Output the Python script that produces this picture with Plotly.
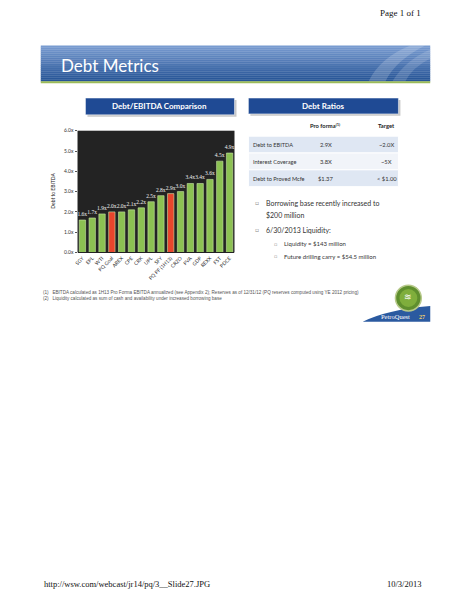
import plotly.graph_objects as go

# ---------------- data ----------------
companies = ["SGY", "EPL", "WTI", "PQ Goal", "AREX", "CPE", "CRK", "UPL", "SFY",
             "PQ PF (1H13)", "CRZO", "PVA", "GDP", "REXX", "FST", "PDCE"]
debt_to_ebitda = [1.6, 1.7, 1.9, 2.0, 2.0, 2.1, 2.2, 2.5, 2.8, 2.9, 3.0, 3.4, 3.4, 3.6, 4.5, 4.9]
highlight = ["PQ Goal", "PQ PF (1H13)"]
ytick_vals = [0, 1, 2, 3, 4, 5, 6]
ytick_text = ["0.0x", "1.0x", "2.0x", "3.0x", "4.0x", "5.0x", "6.0x"]

table_header = ["Pro forma<sup>(1)</sup>", "Target"]
table_rows = ["Debt to EBITDA", "Interest Coverage", "Debt to Proved Mcfe"]
table_proforma = ["2.9X", "3.8X", "$1.37"]
table_target = ["~2.0X", "~5X", "< $1.00"]

W, H = 464, 600
def px(x): return x / W
def py(y): return 1 - y / H

GREEN = "#8cc152"
RED = "#e8452c"
colors = [RED if c in highlight else GREEN for c in companies]

fig = go.Figure()
fig.add_trace(go.Bar(
    x=companies, y=debt_to_ebitda,
    marker=dict(color=colors, line=dict(color="#c9e6a6", width=0.6)),
    text=[f"{v:.1f}x" for v in debt_to_ebitda],
    textposition="outside", constraintext="none", cliponaxis=False,
    textfont=dict(family="Liberation Serif", size=5.5, color="#f0f0f0"),
    hoverinfo="skip",
))

shapes = []
ann = []

def rect(x0, y0, x1, y1, fill, line=None, lw=0, layer="below"):
    shapes.append(dict(type="rect", xref="paper", yref="paper",
                       x0=px(x0), x1=px(x1), y0=py(y1), y1=py(y0),
                       fillcolor=fill, line=dict(color=line or fill, width=lw), layer=layer))

def text(x, y, s, size, color="#333", family="Lato", xanchor="left", bold=False, angle=0):
    if bold:
        s = f"<b>{s}</b>"
    ann.append(dict(xref="paper", yref="paper", x=px(x), y=py(y), text=s, showarrow=False,
                    xanchor=xanchor, yanchor="middle", textangle=angle,
                    font=dict(size=size, color=color, family=family)))

# ---- page header/footer ----
text(423, 10, "Page 1 of 1", 9, "#111", "Liberation Serif", "right")
text(39, 587, "http://wsw.com/webcast/jr14/pq/3__Slide27.JPG", 8.5, "#111", "Liberation Serif")
text(423, 587, "10/3/2013", 8.5, "#111", "Liberation Serif", "right")

# ---- slide title band (vertical gradient) ----
top_c = (120, 155, 208)
bot_c = (38, 84, 150)
n = 18
y0, y1 = 43, 79
for i in range(n):
    t = i / (n - 1)
    c = tuple(int(top_c[k] + (bot_c[k] - top_c[k]) * t) for k in range(3))
    ya = y0 + (y1 - y0) * i / n
    yb = y0 + (y1 - y0) * (i + 1) / n + 0.3
    rect(38, ya, 430, yb, f"rgb{c}")
rect(38, 79, 430, 81, "#9bbb59")
# decorative swoosh
shapes.append(dict(type="path", xref="paper", yref="paper",
                   path=f"M {px(368)} {py(79)} Q {px(380)} {py(55)} {px(410)} {py(43)} L {px(425)} {py(43)} Q {px(395)} {py(58)} {px(385)} {py(79)} Z",
                   fillcolor="rgba(255,255,255,0.18)", line=dict(width=0), layer="below"))
shapes.append(dict(type="path", xref="paper", yref="paper",
                   path=f"M {px(392)} {py(79)} Q {px(405)} {py(58)} {px(430)} {py(47)} L {px(430)} {py(56)} Q {px(412)} {py(65)} {px(405)} {py(79)} Z",
                   fillcolor="rgba(255,255,255,0.15)", line=dict(width=0), layer="below"))
text(56, 63, "Debt Metrics", 17, "white", "Lato")

# ---- box titles ----
rect(85, 98, 235, 115, "#c8c8c8")
rect(83, 96, 233, 113, "#1f4a94", "#ffffff", 0.5)
text(158, 104.5, "Debt/EBITDA Comparison", 8, "white", "Lato", "center", True)
rect(249, 98, 400, 114, "#c8c8c8")
rect(247, 96, 398, 112, "#1f4a94", "#ffffff", 0.5)
text(322.5, 104, "Debt Ratios", 8, "white", "Lato", "center", True)

# ---- table ----
text(324, 124, "<b>" + table_header[0] + "</b>", 5.8, "#222", "Lato", "center")
text(386, 124, table_header[1], 5.8, "#222", "Lato", "center", True)
row_y = [143, 160, 177]
for i, (r, a, b) in enumerate(zip(table_rows, table_proforma, table_target)):
    fill = "#dfe7f3" if i != 1 else "#f1f4f9"
    rect(247, row_y[i] - 8.5, 398, row_y[i] + 8.5, fill, "#ffffff", 1)
    text(250, row_y[i], r, 5.6, "#333", "Lato")
    text(325, row_y[i], a, 5.8, "#333", "Lato", "center")
    text(386, row_y[i], b, 5.8, "#333", "Lato", "center")

# ---- bullets ----
text(256, 202, "▫", 6, "#888", "DejaVu Sans", "center")
text(263, 202, "Borrowing base recently increased to", 7, "#333", "Lato")
text(263, 214, "$200 million", 7, "#333", "Lato")
text(256, 229, "▫", 6, "#888", "DejaVu Sans", "center")
text(263, 229, "6/30/2013 Liquidity:", 7, "#333", "Lato")
text(274, 243, "▫", 5, "#888", "DejaVu Sans", "center")
text(281, 243, "Liquidity = $143 million", 6, "#333", "Lato")
text(274, 256, "▫", 5, "#888", "DejaVu Sans", "center")
text(281, 256, "Future drilling carry = $54.5 million", 6, "#333", "Lato")

# ---- y axis title ----
text(50, 190, "Debt to EBITDA", 5, "#222", "Lato", "center", angle=-90)

# ---- footnotes ----
text(38, 292, "(1)   EBITDA calculated as 1H13 Pro Forma EBITDA annualized (see Appendix 2); Reserves as of 12/31/12 (PQ reserves computed using YE 2012 pricing)", 4.6, "#555", "Liberation Sans")
text(38, 298, "(2)   Liquidity calculated as sum of cash and availability under increased borrowing base", 4.6, "#555", "Liberation Sans")

# ---- logo ----
shapes.append(dict(type="path", xref="paper", yref="paper",
                   path=f"M {px(362)} {py(322)} Q {px(385)} {py(310)} {px(430)} {py(306)} L {px(430)} {py(322)} Z",
                   fillcolor="#2b5aa0", line=dict(width=0), layer="below"))
shapes.append(dict(type="circle", xref="paper", yref="paper",
                   x0=px(395), x1=px(421), y0=py(311), y1=py(285),
                   fillcolor="#5f8f2e", line=dict(color="#b7c98a", width=1.5), layer="below"))
shapes.append(dict(type="circle", xref="paper", yref="paper",
                   x0=px(399), x1=px(417), y0=py(307), y1=py(289),
                   fillcolor="#7fae3c", line=dict(width=0), layer="below"))
text(408, 297, "≋", 9, "white", "DejaVu Sans", "center")
text(412, 317, "PetroQuest", 6.5, "white", "Liberation Serif", "right")
text(422, 317, "27", 6, "#f5d36a", "Liberation Serif", "center", True)

fig.update_layout(
    width=W, height=H, margin=dict(l=0, r=0, t=0, b=0),
    paper_bgcolor="white", plot_bgcolor="#232323",
    showlegend=False, bargap=0.35,
    shapes=shapes, annotations=ann,
    xaxis=dict(domain=[px(75), px(233)], tickangle=-45, showgrid=False,
               tickfont=dict(size=5, color="#333", family="Lato"),
               ticks="", ticklen=0, linecolor="#232323"),
    yaxis=dict(domain=[py(252), py(129)], range=[0, 6], tickvals=ytick_vals, ticktext=ytick_text,
               showgrid=False, zeroline=False,
               tickfont=dict(size=5, color="#333", family="Lato"),
               ticks="outside", ticklen=2, tickcolor="#555"),
)

fig.write_html("out.html", config={"displayModeBar": False},
               post_script="document.body.style.margin='0';document.body.style.overflow='hidden';")
